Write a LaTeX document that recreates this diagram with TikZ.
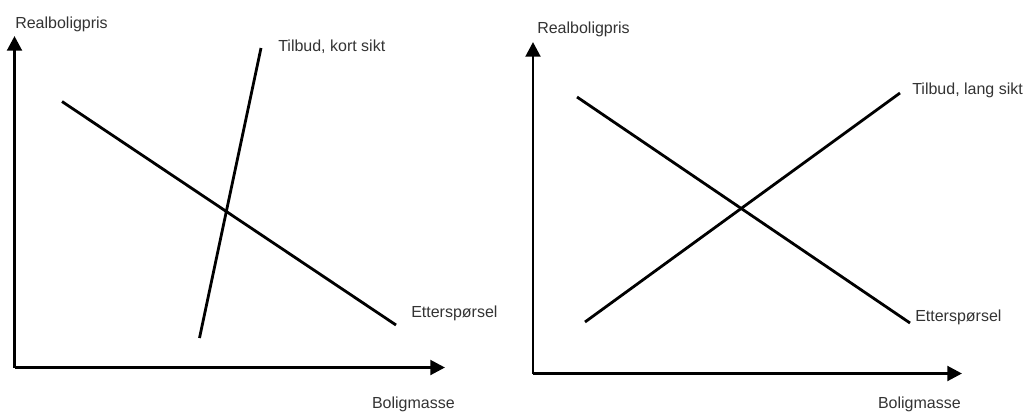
\documentclass[tikz,border=0pt]{standalone}
\usepackage{fontspec}
\setmainfont{Liberation Sans}
\usetikzlibrary{arrows.meta}

\tikzset{
  axis/.style={line width=2.2pt, -{Triangle[width=11pt, length=11pt]}},
  curve/.style={line width=2.1pt},
  lbl/.style={font=\fontsize{12}{14}\selectfont, text=black!80, inner sep=0pt}
}

\begin{document}
\begin{tikzpicture}[x=0.75pt, y=-0.75pt]
  \useasboundingbox (0,0) rectangle (1028,412);
  % left panel: short run
  \coordinate (o1) at (14.5,367.5);
  \coordinate (y1) at (14.5,36);
  \coordinate (x1) at (445,367.5);
  \draw[axis] (o1.center) -- (y1);
  \draw[axis] (o1.center) -- (x1);
  \node[lbl, anchor=base west] (ylab1) at (15,28) {Realboligpris};
  \node[lbl, anchor=base east] (xlab1) at (455,408) {Boligmasse};
  \coordinate (d1a) at (62,101.5);
  \coordinate (d1b) at (396,325);
  \coordinate (s1a) at (199.5,338);
  \coordinate (s1b) at (261,48);
  \draw[curve] (d1a) -- (d1b);
  \draw[curve] (s1a) -- (s1b);
  \node[lbl, anchor=west] (slab1) at (278,47) {Tilbud, kort sikt};
  \node[lbl, anchor=west] (dlab1) at (411,313) {Etterspørsel};
  % right panel: long run
  \coordinate (o2) at (533,373.5);
  \coordinate (y2) at (533,42);
  \coordinate (x2) at (962,373.5);
  \draw[axis] (o2.center) -- (y2);
  \draw[axis] (o2.center) -- (x2);
  \node[lbl, anchor=base west] (ylab2) at (537,33) {Realboligpris};
  \node[lbl, anchor=base east] (xlab2) at (961,408) {Boligmasse};
  \coordinate (d2a) at (577,97);
  \coordinate (d2b) at (910,323);
  \coordinate (s2a) at (585,322);
  \coordinate (s2b) at (900,93);
  \draw[curve] (d2a) -- (d2b);
  \draw[curve] (s2a) -- (s2b);
  \node[lbl, anchor=west] (slab2) at (912,90) {Tilbud, lang sikt};
  \node[lbl, anchor=west] (dlab2) at (915,317) {Etterspørsel};
\end{tikzpicture}
\end{document}
